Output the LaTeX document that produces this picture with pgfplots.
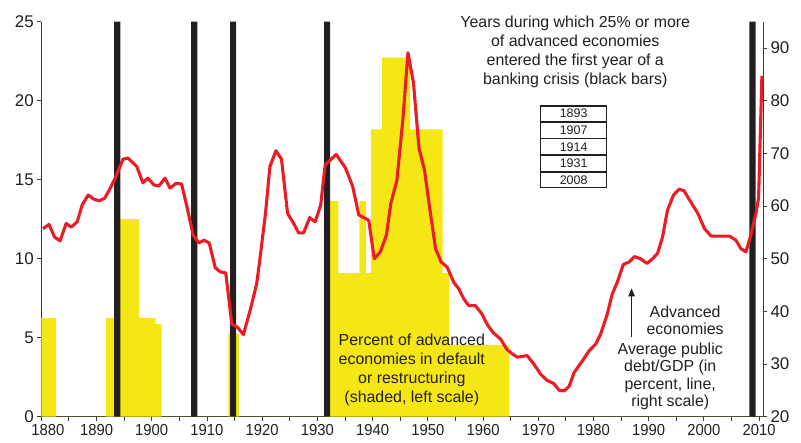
\documentclass[border=0pt]{standalone}
\usepackage{fontspec}
\setmainfont{Liberation Sans}
\usepackage{pgfplots}
\pgfplotsset{compat=1.18}
\usetikzlibrary{calc,arrows.meta}

\definecolor{barblack}{HTML}{231F20}
\definecolor{shadeyellow}{HTML}{F5E616}
\definecolor{debtred}{HTML}{EC1C24}
\definecolor{axisgray}{HTML}{3A3A3A}

\pgfplotsset{
  crisisbase/.style={
    width=721.7bp, height=395bp, scale only axis,
    at={(41.3bp,26.3bp)}, anchor=south west,
    xmin=1880, xmax=2010.7,
    /pgf/number format/assume math mode=true,
    /pgf/number format/1000 sep={},
    tick align=outside,
    major tick length=4bp,
    minor tick length=4bp,
    axis line style={axisgray, line width=0.9bp},
    every tick/.style={axisgray, line width=0.9bp},
    minor tick style={axisgray, line width=0.9bp},
    yticklabel style={font=\fontsize{17}{17}\selectfont, text=barblack},
    xticklabel style={font=\fontsize{16}{16}\selectfont, text=barblack, xscale=0.93},
  }
}

\begin{document}
\begin{tikzpicture}
\path[use as bounding box] (0,0) rectangle (801bp,443bp);

% left scale: share of advanced economies in default, crisis years
\begin{axis}[crisisbase,
  axis x line*=bottom, axis y line*=left,
  ymin=0, ymax=25,
  ytick={0,5,...,25},
  xtick={1880,1890,...,2010},
  xticklabels={\hspace*{14bp}1880,1890,1900,1910,1920,1930,1940,1950,1960,1970,1980,1990,2000,2010},
  minor xtick={1885,1895,...,2005},
]
\addplot[const plot, fill=shadeyellow, draw=none] coordinates {
  (1880,6.25) (1882.7,0) (1891.7,6.25) (1894.2,12.5) (1897.7,6.25)
  (1900.7,5.88) (1901.8,0) (1913.9,5.26) (1915.8,0) (1931.5,13.64)
  (1933.8,9.09) (1937.6,13.64) (1938.8,9.09) (1939.7,18.18) (1941.7,22.73)
  (1946.8,18.18) (1952.7,9.09) (1953.8,4.55) (1964.7,0) (2010.7,0)
} \closedcycle;
\addplot[ybar, bar width=1.1, bar shift=0pt, fill=barblack, draw=none] coordinates {
  (1893.75,25) (1907.7,25) (1914.75,25) (1931.75,25) (2008.8,25)
};
\coordinate (ttl) at (axis cs:1976.7,23.08);
\coordinate (tab) at (axis cs:1976.4,17.08);
\coordinate (pct) at (axis cs:1947.1,2.94);
\coordinate (adv) at (axis cs:1996.6,6.11);
\coordinate (avg) at (axis cs:1993.9,2.56);
\coordinate (arrA) at (axis cs:1986.9,5.05);
\coordinate (arrB) at (axis cs:1986.9,8.12);
\end{axis}

% right scale: average public debt/GDP
\begin{axis}[crisisbase,
  axis x line=none, axis y line*=right,
  xtick=\empty,
  ymin=20, ymax=95,
  ytick={20,30,...,90},
]
\addplot[debtred, line width=3.1bp, line join=round] table {
1880.3 55.7
1881.4 56.5
1882.4 54.1
1883.4 53.4
1884.5 56.7
1885.4 56.0
1886.5 57.0
1887.4 60.2
1888.5 62.1
1889.5 61.3
1890.5 61.0
1891.5 61.5
1892.4 63.2
1893.3 65.1
1894.8 68.9
1895.7 69.1
1897.3 67.5
1898.4 64.4
1899.3 65.3
1900.4 64.0
1901.3 63.8
1902.4 65.3
1903.3 63.4
1904.4 64.3
1905.4 64.2
1906.3 60.2
1907.5 54.5
1908.5 53.0
1909.5 53.5
1910.4 53.0
1911.5 48.3
1912.4 47.5
1913.4 47.3
1914.5 37.6
1915.5 37.0
1916.6 35.6
1917.8 40.1
1919.0 45.2
1919.6 50.0
1920.6 58.6
1921.4 67.5
1922.5 70.5
1923.5 68.9
1924.6 58.6
1925.7 56.7
1926.6 54.9
1927.5 54.9
1928.6 57.8
1929.6 57.0
1930.6 60.2
1931.4 67.8
1933.4 69.8
1935.1 67.2
1936.4 63.7
1937.5 58.3
1939.3 57.3
1940.3 50.0
1941.4 51.3
1942.5 54.5
1943.3 60.5
1944.4 64.9
1945.5 76.7
1946.4 89.1
1947.4 83.4
1948.4 71.0
1949.4 66.8
1950.3 59.9
1951.4 51.9
1952.4 49.4
1953.5 48.4
1954.7 45.5
1955.6 44.3
1956.5 42.4
1957.4 41.1
1958.6 41.1
1959.8 39.5
1960.7 37.6
1961.8 36.0
1963.2 34.7
1964.3 32.8
1965.2 32.0
1966.2 31.3
1968.0 31.6
1969.2 30.0
1970.4 28.1
1971.6 26.9
1972.8 26.3
1973.8 25.0
1974.7 24.9
1975.6 25.8
1976.5 28.4
1978.0 30.6
1979.2 32.5
1980.4 33.8
1981.3 35.7
1982.5 39.5
1983.4 43.3
1984.3 45.5
1985.4 48.9
1986.5 49.4
1987.4 50.4
1988.5 50.0
1989.7 49.1
1990.7 50.0
1991.6 51.0
1992.5 54.1
1993.4 59.2
1994.5 62.1
1995.5 63.2
1996.4 62.9
1997.6 60.8
1998.9 58.6
2000.1 55.7
2001.3 54.3
2003.1 54.3
2004.6 54.3
2005.8 53.5
2006.7 51.9
2007.6 51.3
2008.5 54.5
2009.4 58.5
2009.9 61.5
2010.5 84.7
};
\end{axis}

% annotations
\node[align=center, text=barblack, font=\fontsize{16}{19}\selectfont] at (ttl)
  {Years during which 25\% or more\\of advanced economies\\entered the first year of a\\banking crisis (black bars)};
\node[draw=barblack, line width=1.7bp, inner sep=0pt, minimum width=66bp, minimum height=81.5bp] (tb) at (tab) {};
\foreach \f in {0.2,0.4,0.6,0.8}
  \draw[barblack, line width=1.7bp] ($(tb.north west)!\f!(tb.south west)$) -- ($(tb.north east)!\f!(tb.south east)$);
\foreach \yr/\f in {1893/0.1,1907/0.3,1914/0.5,1931/0.7,2008/0.9}
  \node[text=barblack, font=\fontsize{12.5}{12.5}\selectfont] at ($(tb.north)!\f!(tb.south)$) {\yr};
\node[align=center, text=barblack, font=\fontsize{16}{19}\selectfont] at (pct)
  {Percent of advanced\\economies in default\\or restructuring\\(shaded, left scale)};
\node[align=center, text=barblack, font=\fontsize{16}{17}\selectfont] at (adv)
  {Advanced\\economies};
\node[align=center, text=barblack, font=\fontsize{16}{17.5}\selectfont] at (avg)
  {Average public\\debt/GDP (in\\percent, line,\\right scale)};
\draw[barblack, line width=1bp, -{Triangle[length=8bp,width=6.5bp]}] (arrA) -- (arrB);
\end{tikzpicture}
\end{document}
